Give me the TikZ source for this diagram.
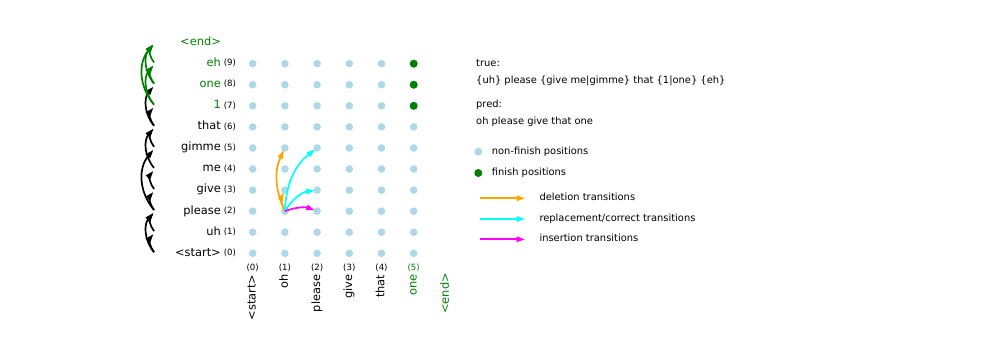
\documentclass[tikz,border=0pt]{standalone}
\usepackage{fontspec}
\setmainfont{DejaVu Sans}
\usetikzlibrary{arrows.meta}
\definecolor{mgreen}{HTML}{008000}
\definecolor{mblue}{HTML}{ADD8E6}
\definecolor{morange}{HTML}{FFA500}
\definecolor{mcyan}{HTML}{00FFFF}
\definecolor{mmag}{HTML}{FF00FF}
\tikzset{
  dotnode/.style={circle,fill=mblue,inner sep=0pt,minimum size=7.6pt},
  findot/.style={circle,fill=mgreen,inner sep=0pt,minimum size=8pt},
  word/.style={inner sep=0pt,font=\fontsize{11.4}{13}\selectfont,text height=8.4pt,text depth=2.6pt},
  num/.style={inner sep=0pt,font=\fontsize{8.6}{10}\selectfont,text height=6.3pt,text depth=1.9pt},
  legtext/.style={inner sep=0pt,anchor=west,font=\fontsize{9.9}{12}\selectfont,text height=7.3pt,text depth=2.3pt},
  arr/.style={line width=1.7pt,-{Triangle[length=8.5pt,width=5.5pt]},shorten >=2.5pt},
  arcarr/.style={arr,shorten <=1.5pt,bend left=40,looseness=1.05},
}
\begin{document}
\begin{tikzpicture}[x=1pt,y=-1pt]
\useasboundingbox (0,0) rectangle (996,356);
% arc coordinates
\foreach \r in {0,...,10} \coordinate (L\r) at (155,{253.3-21.07*\r});
% row labels
\foreach \r/\w/\cl in {0/{<start>}/black,1/uh/black,2/please/black,3/give/black,4/me/black,5/gimme/black,6/that/black,7/1/mgreen,8/one/mgreen,9/eh/mgreen,10/{<end>}/mgreen}{
  \node[word,anchor=east,text=\cl] (w\r) at (221,{253.3-21.07*\r}) {\w};
}
\foreach \r in {0,...,9}{
  \node[num,anchor=west] (n\r) at (223.6,{253.3-21.07*\r}) {(\r)};
}
% column labels
\foreach \c/\w/\cl in {0/{<start>}/black,1/oh/black,2/please/black,3/give/black,4/that/black,5/one/mgreen}{
  \node[num,text=\cl] (cn\c) at ({252.7+32.2*\c},268.3) {(\c)};
  \node[word,rotate=90,anchor=east,text=\cl] (cw\c) at ({252.7+32.2*\c},274.5) {\w};
}
\node[word,rotate=90,anchor=east,text=mgreen] (cw6) at ({252.7+32.2*6},273) {<end>};
% dots
\foreach \c in {0,...,5}{
  \foreach \r in {0,...,9}{
    \node[dotnode] (d\c-\r) at ({252.7+32.2*\c},{253.3-21.07*\r}) {};
  }
}
\foreach \r in {7,8,9}{
  \node[findot] (g\r) at ({252.7+32.2*5},{253.3-21.07*\r}) {};
}
% transitions in the grid
\draw[arr,morange] (d1-2.center) to[bend left=25] (d1-3.center);
\draw[arr,morange] (d1-2.center) to[bend left=25] (d1-5.center);
\draw[arr,mcyan] (d1-2.center) to[bend left=25] (d2-3.center);
\draw[arr,mcyan] (d1-2.center) to[bend left=25] (d2-5.center);
\draw[arr,mmag] (d1-2.center) to[bend left=20] (d2-2.center);
% left arcs
\foreach \a/\b in {0/1,0/2,1/2,2/3,2/5,3/4,4/6,5/6,6/7,6/8}{
  \draw[arcarr,black] (L\a) to (L\b);
}
\foreach \a/\b in {7/9,7/10,8/9,8/10,9/10}{
  \draw[arcarr,mgreen] (L\a) to (L\b);
}
% right texts
\node[legtext] (t1) at (476,64) {true:};
\node[legtext] (t2) at (476,81) {\{uh\} please \{give me|gimme\} that \{1|one\} \{eh\}};
\node[legtext] (t3) at (476,105) {pred:};
\node[legtext] (t4) at (476,122.3) {oh please give that one};
% legend
\node[dotnode,minimum size=8pt] (ld1) at (478.3,151.7) {};
\node[legtext] (lt1) at (491.7,151.7) {non-finish positions};
\node[findot] (ld2) at (478.3,173) {};
\node[legtext] (lt2) at (491.7,173) {finish positions};
\coordinate (la1) at (480,198.3); \coordinate (lb1) at (527.5,198.3);
\coordinate (la2) at (480,219); \coordinate (lb2) at (527.5,219);
\coordinate (la3) at (480,239.3); \coordinate (lb3) at (527.5,239.3);
\draw[arr,morange] (la1) -- (lb1);
\draw[arr,mcyan] (la2) -- (lb2);
\draw[arr,mmag] (la3) -- (lb3);
\node[legtext] (lt3) at (539.3,198.3) {deletion transitions};
\node[legtext] (lt4) at (539.3,219) {replacement/correct transitions};
\node[legtext] (lt5) at (539.3,239.3) {insertion transitions};
\end{tikzpicture}
\end{document}
